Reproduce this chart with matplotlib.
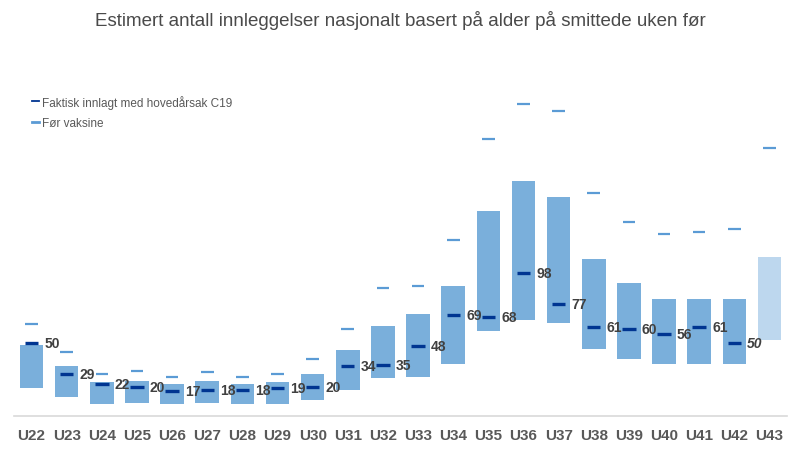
import matplotlib
matplotlib.use("Agg")
import matplotlib.pyplot as plt
from matplotlib.lines import Line2D
import numpy as np

plt.rcParams['font.family'] = ['Liberation Sans', 'DejaVu Sans']

# weeks on the x axis
weeks = ['U22', 'U23', 'U24', 'U25', 'U26', 'U27', 'U28', 'U29', 'U30', 'U31', 'U32',
         'U33', 'U34', 'U35', 'U36', 'U37', 'U38', 'U39', 'U40', 'U41', 'U42', 'U43']
# estimated range (low / high)
est_low = [19, 13, 8.5, 9, 8, 9, 8, 8, 11, 18, 26, 27, 36, 58, 66, 64, 46, 39, 36, 36, 36, 52]
est_high = [49, 34, 23, 24, 22, 24, 22, 23, 29, 45, 62, 70, 89, 141, 161, 150, 108, 91, 80, 80, 80, 109]
# actual admissions, main cause C19 (none for last week)
faktisk = [50, 29, 22, 20, 17, 18, 18, 19, 20, 34, 35, 48, 69, 68, 98, 77, 61, 60, 56, 61, 50]
# before vaccine
for_vaksine = [63, 44, 29, 31, 27, 30, 27, 29, 39, 60, 88, 89, 121, 190, 214, 209, 153, 133, 125, 126, 128, 184]

BAR = '#7aafdb'
BAR_LIGHT = '#bdd7ee'
DARK = '#003591'
FOR = '#5b9bd5'
TXT = '#404040'

fig = plt.figure(figsize=(8.01, 4.52), dpi=100)
ax = fig.add_axes([14 / 801, 35 / 452, 773 / 801, 357 / 452])

x = np.arange(len(weeks))
heights = [h - l for h, l in zip(est_high, est_low)]
colors = [BAR] * (len(weeks) - 1) + [BAR_LIGHT]
ax.bar(x, heights, bottom=est_low, width=0.67, color=colors, zorder=1)

xf = x[:len(faktisk)]
ax.hlines(for_vaksine, x - 0.18, x + 0.18, color=FOR, lw=1.6, zorder=2)
ax.hlines(faktisk, xf - 0.19, xf + 0.19, color=DARK, lw=2.4, zorder=3)

for i, v in enumerate(faktisk):
    style = 'italic' if i == len(faktisk) - 1 else 'normal'
    ax.text(i + 0.37, v, str(v), ha='left', va='center', fontsize=10, fontweight='bold',
            color=TXT, fontstyle=style, zorder=4)

ax.set_xlim(-0.5, len(weeks) - 0.5)
ax.set_ylim(0, 245)
ax.set_xticks(x)
ax.set_xticklabels(weeks, fontsize=11, fontweight='bold', color='#595959')
ax.tick_params(axis='x', length=0, pad=9)
ax.set_yticks([])
for s in ['left', 'right', 'top']:
    ax.spines[s].set_visible(False)
ax.spines['bottom'].set_color('#d9d9d9')
ax.spines['bottom'].set_linewidth(1.2)

handles = [Line2D([], [], color=DARK, lw=1.3),
           Line2D([], [], color=FOR, lw=2.0)]
ax.legend(handles, ['Faktisk innlagt med hovedårsak C19', 'Før vaksine'],
          loc='upper left', bbox_to_anchor=(0.01, 0.93), frameon=False,
          fontsize=8.5, handlelength=0.55, handletextpad=0.25, labelspacing=0.7,
          labelcolor='#595959')

fig.text(0.5, 1 - 21 / 452, 'Estimert antall innleggelser nasjonalt basert på alder på smittede uken før',
         ha='center', va='center', fontsize=13.5, color='#4a4a4a')

fig.savefig('out.png', dpi=100)
